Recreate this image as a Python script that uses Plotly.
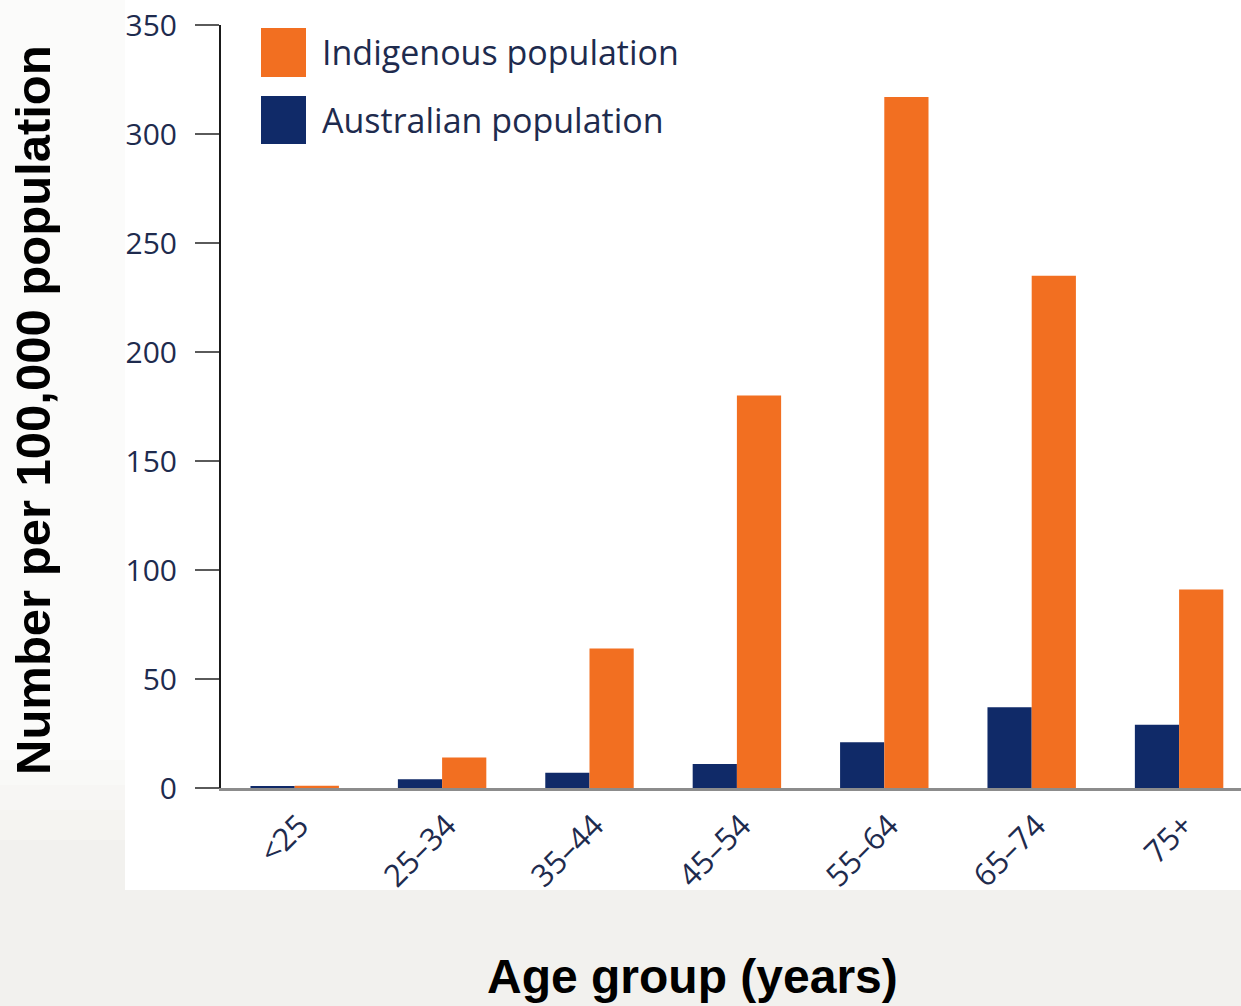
import plotly.graph_objects as go

# Age groups and rates per 100,000 population
age_groups = ["<25", "25–34", "35–44", "45–54", "55–64", "65–74", "75+"]
australian_rate = [0.8, 4, 7, 11, 21, 37, 29]
indigenous_rate = [1, 14, 64, 180, 317, 235, 91]
series_names = ["Indigenous population", "Australian population"]
y_ticks = [0, 50, 100, 150, 200, 250, 300, 350]

ORANGE = "#F26F21"
NAVY = "#102A68"
TEXT = "#1E2B4E"
BG = "#F2F1EE"

W, H = 1241, 1006
L, R, T, B = 221, 0, 25, 218
PW, PH = W - L - R, H - T - B


def px(x):
    return (x - L) / PW


def py(y):
    return (H - B - y) / PH


fig = go.Figure()
fig.add_trace(go.Bar(x=age_groups, y=australian_rate, name=series_names[1],
                     marker=dict(color=NAVY, line=dict(width=0)), showlegend=False))
fig.add_trace(go.Bar(x=age_groups, y=indigenous_rate, name=series_names[0],
                     marker=dict(color=ORANGE, line=dict(width=0)), showlegend=False))

shapes = []
# pale strip to the left of the panel, fading into the slide background
fade = ["#FBFBFA", "#F9F9F7", "#F7F6F4", "#F5F4F1"]
shapes.append(dict(type="rect", xref="paper", yref="paper", x0=px(-5), x1=px(125),
                   y0=py(760), y1=py(-5), fillcolor=fade[0], line=dict(width=0), layer="below"))
for i, c in enumerate(fade[1:]):
    shapes.append(dict(type="rect", xref="paper", yref="paper", x0=px(-5), x1=px(125),
                       y0=py(790 + 25 * i), y1=py(760 + 25 * i), fillcolor=c,
                       line=dict(width=0), layer="below"))
# white chart panel
shapes.append(dict(type="rect", xref="paper", yref="paper", x0=px(125), x1=1.0,
                   y0=py(890), y1=py(-5), fillcolor="white", line=dict(width=0), layer="below"))
# slide background below the panel (trims the rotated labels)
shapes.append(dict(type="rect", xref="paper", yref="paper", x0=px(125), x1=1.0,
                   y0=py(H + 5), y1=py(890), fillcolor=BG, line=dict(width=0), layer="above"))
# legend swatches
shapes.append(dict(type="rect", xref="paper", yref="paper", x0=px(261), x1=px(306),
                   y0=py(77), y1=py(28), fillcolor=ORANGE, line=dict(width=0)))
shapes.append(dict(type="rect", xref="paper", yref="paper", x0=px(261), x1=px(306),
                   y0=py(144), y1=py(96), fillcolor=NAVY, line=dict(width=0)))

annotations = [
    dict(text=series_names[0], xref="paper", yref="paper", x=px(320), y=py(52),
         xanchor="left", yanchor="middle", showarrow=False,
         font=dict(family="Open Sans", size=34, color=TEXT)),
    dict(text=series_names[1], xref="paper", yref="paper", x=px(320), y=py(120),
         xanchor="left", yanchor="middle", showarrow=False,
         font=dict(family="Open Sans", size=34, color=TEXT)),
    dict(text="<b>Age group (years)</b>", xref="paper", yref="paper", x=px(692), y=py(976),
         xanchor="center", yanchor="middle", showarrow=False,
         font=dict(family="Liberation Sans, Arial", size=48, color="black")),
    dict(text="<b>Number per 100,000 population</b>", xref="paper", yref="paper",
         x=px(33), y=py(410), textangle=-90, xanchor="center", yanchor="middle",
         showarrow=False, font=dict(family="Liberation Sans, Arial", size=49, color="black")),
]

fig.update_layout(
    width=W, height=H,
    margin=dict(l=L, r=R, t=T, b=B, pad=0),
    paper_bgcolor=BG,
    plot_bgcolor="rgba(0,0,0,0)",
    barmode="group",
    bargap=0.40,
    bargroupgap=0,
    shapes=shapes,
    annotations=annotations,
)

fig.update_xaxes(
    range=[-0.5, 6.42],
    showline=True, linecolor="#8C8C8C", linewidth=3,
    ticks="", showgrid=False, zeroline=False,
    tickangle=-45,
    tickfont=dict(family="Open Sans", size=31, color=TEXT),
    ticklabelshift=5,
    ticklabelstandoff=4,
)

fig.update_yaxes(
    range=[0, 350],
    tickvals=y_ticks,
    showline=True, linecolor="#1A1A1A", linewidth=2,
    ticks="outside", ticklen=24, tickwidth=2, tickcolor="#5A5A5A",
    showgrid=False, zeroline=False,
    tickfont=dict(family="Open Sans", size=30, color=TEXT),
    ticklabelstandoff=12,
)

fig.write_html("out.html")
